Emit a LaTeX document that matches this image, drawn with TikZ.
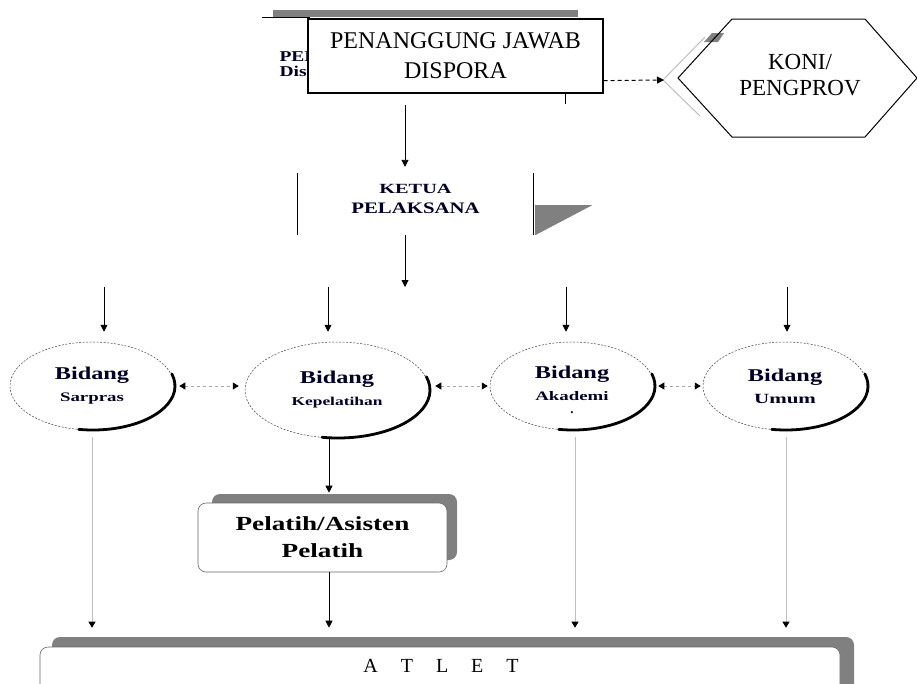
\documentclass[tikz,border=0pt]{standalone}
\usepackage{fontspec}
\setmainfont{Liberation Serif}
\usetikzlibrary{arrows.meta,shapes.geometric,calc}
\tikzset{
  arr/.style={-{Triangle[width=7pt,length=7pt]},line width=0.9pt},
  thinarr/.style={draw=black!25,line width=0.7pt,-{Triangle[width=7pt,length=6pt,black]}},
  dasharr/.style={draw=black!35,dash pattern=on 3pt off 3pt,line width=0.7pt,
    {Triangle[width=7pt,length=6pt,black]}-{Triangle[width=7pt,length=6pt,black]}},
  bidang/.style={ellipse,draw=black!75,dash pattern=on 2pt off 1.5pt,line width=0.5pt,fill=white,
    minimum width=164pt,minimum height=88pt,align=center,inner sep=0pt,
    font=\bfseries\fontsize{13}{22}\selectfont,text=black!85!blue},
  shadowarc/.style={line width=2.8pt,line cap=round},
  shade/.style={fill=black!50},
  rbox/.style={draw=black!60,line width=0.6pt,fill=white,rounded corners=8pt},
  bt/.style={align=center,text=black!85!blue}
}
% size, stretch, text
\newcommand{\sx}[3]{{\fontsize{#1}{#1}\selectfont\addfontfeature{FakeStretch=#2}#3}}
\begin{document}
\begin{tikzpicture}[x=1pt,y=-1pt]
\useasboundingbox (0,0) rectangle (917,683);
\clip (0,0) rectangle (917,683);

% remains of the box behind
\fill[shade] (273,10) rectangle (578,17);
\draw[line width=1pt] (262,17) -- (310,17);
\node[bt,anchor=west,font=\bfseries] (pehid) at (276,57) {\sx{15}{1.3}{PEN}};
\node[bt,anchor=west,font=\bfseries] (dishid) at (276,73) {\sx{15}{1.3}{Disp}};
\draw[line width=1pt] (565,93) -- (565,104);

% main box
\node[draw,line width=1.2pt,fill=white,minimum width=295pt,minimum height=74pt,align=center,
  font=\fontsize{24}{30}\selectfont] (pj) at (455.5,56) {PENANGGUNG JAWAB\\DISPORA};

% KONI hexagon
\draw[black!25,line width=1pt] (705,37) -- (663,80) -- (700,116);
\fill[shade] (712,33) -- (724,33) -- (718,42) -- (704,42) -- cycle;
\node[align=center,font=\fontsize{23}{26}\selectfont] (koni) at (800,75) {KONI/\\PENGPROV};
\draw[line width=1pt] (678,78) -- (732,19) -- (865,19) -- (917,78) -- (865,137) -- (732,137) -- cycle;
\coordinate (koniin) at (664,80);
\draw[dash pattern=on 4pt off 3pt,line width=1pt,-{Triangle[width=7pt,length=7pt]}]
  ($(pj.south east)+(0,-13)$) -- (koniin);

% Ketua pelaksana
\coordinate (pjout) at (405,105);
\node[minimum width=235pt,minimum height=62pt,inner sep=0pt] (ketua) at (415.5,204) {};
\draw[line width=1pt] (ketua.north west) -- (ketua.south west);
\draw[line width=1pt] (ketua.north east) -- (ketua.south east);
\fill[shade] ([xshift=2pt,yshift=30pt]ketua.south east) -- ++(57,0) -- ([xshift=2pt]ketua.south east) -- cycle;
\node[bt,font=\bfseries\fontsize{14}{20}\selectfont] (ketuatxt) at (415.5,199)
  {\sx{14}{1.45}{KETUA}\\\sx{16}{1.3}{PELAKSANA}};
\draw[arr,shorten >=6pt] (pjout) -- (pjout |- ketua.north);
\coordinate (hub) at (405,287);
\draw[arr] (pjout |- ketua.south) -- (hub);

% Bidang ellipses
\node[bidang] (sarpras) at (92,386) {\sx{18}{1.35}{Bidang}\\\sx{13}{1.45}{Sarpras}};
\node[bidang,minimum width=184pt,minimum height=96pt] (kep) at (337,390) {\sx{18}{1.35}{Bidang}\\\sx{12}{1.45}{Kepelatihan}};
\node[bidang] (aka) at (572,386) {};
\node[bidang,draw=none,fill=none] (akatxt) at (572,390) {\sx{18}{1.35}{Bidang}\\\sx{13}{1.45}{Akademi}\\[-9pt]\sx{13}{1}{.}};
\node[bidang] (umum) at (785,386) {\sx{18}{1.35}{Bidang}\\\sx{14}{1.5}{Umum}};
\draw[shadowarc] ($(sarpras.center)+(1,0)$) ++(-16:82 and 44) arc[start angle=-16,end angle=100,x radius=82,y radius=44];
\draw[shadowarc] ($(kep.center)+(1,0)$) ++(-16:92 and 48) arc[start angle=-16,end angle=100,x radius=92,y radius=48];
\draw[shadowarc] ($(aka.center)+(1,0)$) ++(-16:82 and 44) arc[start angle=-16,end angle=100,x radius=82,y radius=44];
\draw[shadowarc] ($(umum.center)+(1,0)$) ++(-16:82 and 44) arc[start angle=-16,end angle=100,x radius=82,y radius=44];

\coordinate (d1) at (104,287);
\coordinate (d2) at (328,287);
\coordinate (d3) at (566,287);
\coordinate (d4) at (787,287);
\draw[arr,shorten >=10pt] (d1) -- (d1 |- sarpras.north);
\draw[arr,line width=0.7pt,shorten >=10pt] (d2) -- (d2 |- kep.north);
\draw[arr,shorten >=10pt] (d3) -- (d3 |- aka.north);
\draw[arr,shorten >=10pt] (d4) -- (d4 |- umum.north);

\draw[dasharr] ([xshift=5pt]sarpras.east) -- ([xshift=-6pt]sarpras.east -| kep.west);
\draw[dasharr] ([xshift=6pt]aka.west -| kep.east) -- ([xshift=-2pt]aka.west);
\draw[dasharr] ([xshift=4pt]aka.east) -- ([xshift=-2pt]umum.west);

% Pelatih box
\fill[shade,rounded corners=8pt] (212,494) rectangle (457,560);
\node[rbox,align=center,font=\bfseries\fontsize{20}{27}\selectfont,minimum width=249pt,minimum height=69pt] (pelatih) at (322.5,537.5)
  {\sx{20}{1.36}{Pelatih/Asisten}\\\sx{20}{1.36}{Pelatih}};

% ATLET box
\fill[shade,rounded corners=8pt] (52,637) rectangle (854,700);
\node[rbox,minimum width=800pt,minimum height=60pt] (atlet) at (440,677) {};
\node[font=\fontsize{20}{22}\selectfont] (atlettxt) at (441,666) {A\hspace{23pt}T\hspace{23pt}L\hspace{23pt}E\hspace{23pt}T};

\draw[arr,line width=0.7pt,shorten >=10pt] ([xshift=-8pt]kep.south) -- ([xshift=-8pt]kep.south |- pelatih.north);
\draw[arr,line width=0.7pt,shorten >=19pt] ([xshift=6.5pt]pelatih.south) -- ([xshift=6.5pt]pelatih.south |- atlet.north);
\draw[thinarr,shorten <=7pt,shorten >=19pt] (sarpras.south) -- (sarpras.south |- atlet.north);
\draw[thinarr,shorten <=7pt,shorten >=19pt] ([xshift=3pt]aka.south) -- ([xshift=3pt]aka.south |- atlet.north);
\draw[thinarr,shorten <=7pt,shorten >=19pt] ([xshift=1pt]umum.south) -- ([xshift=1pt]umum.south |- atlet.north);
\end{tikzpicture}
\end{document}
